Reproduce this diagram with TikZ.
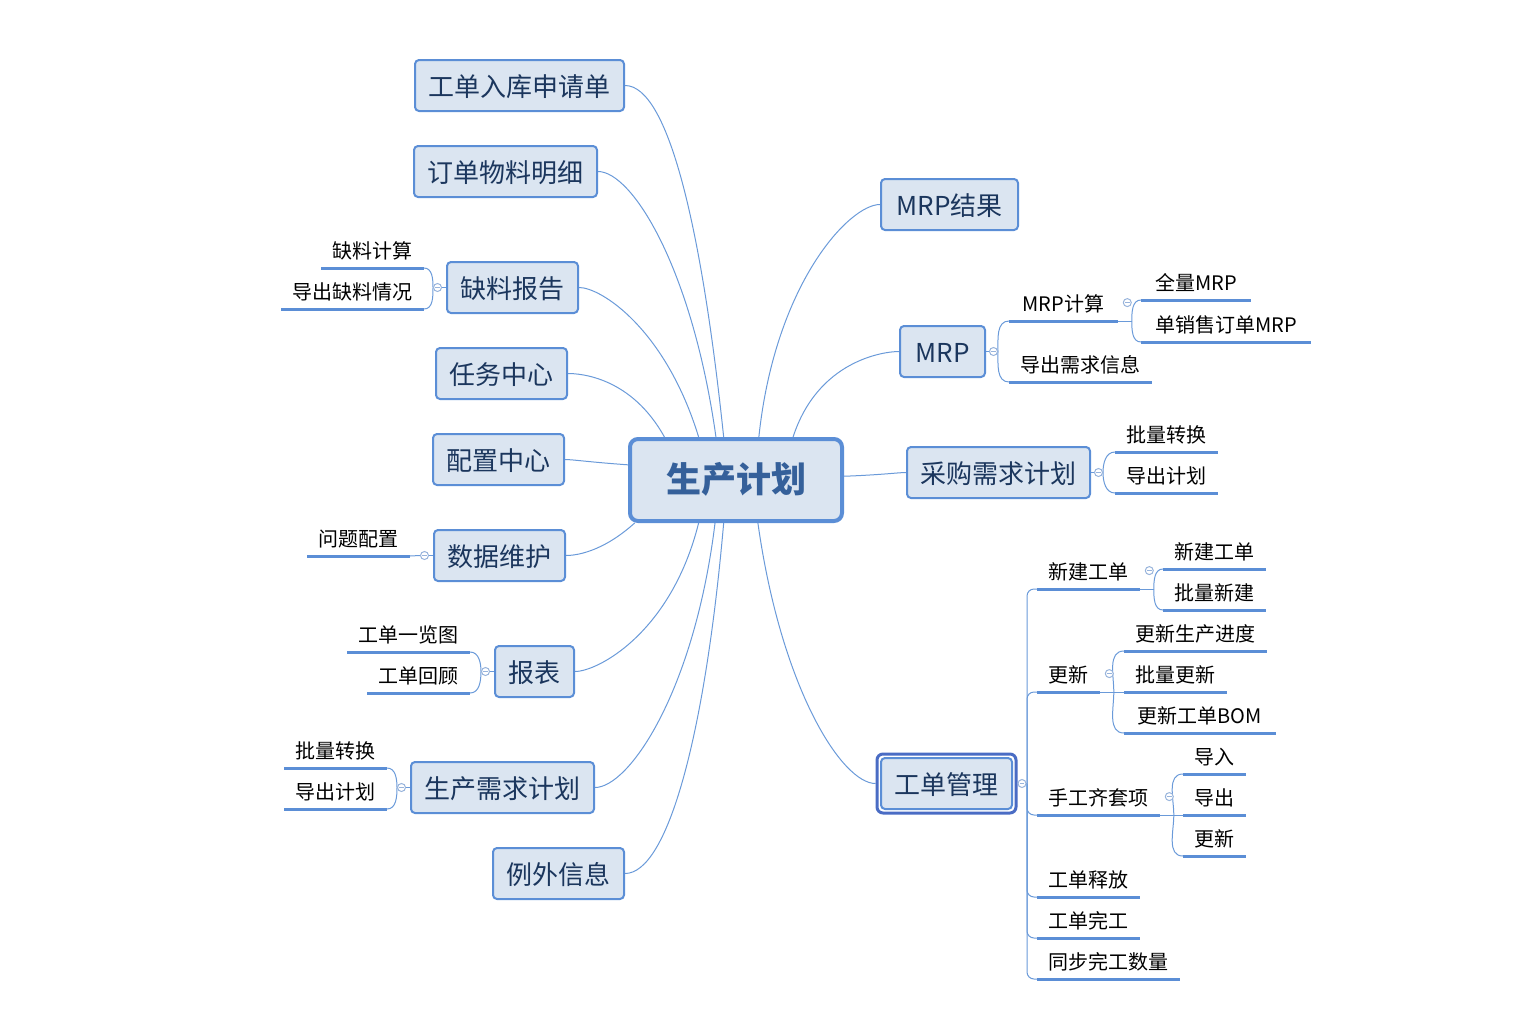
\documentclass[tikz,border=0pt]{standalone}
\usepackage{fontspec}
\setmainfont{Noto Sans CJK SC}
\usepackage{tikz}
\usetikzlibrary{positioning,fit,backgrounds}

\definecolor{topicfill}{HTML}{DBE5F1}
\definecolor{topicline}{HTML}{5B8ED6}
\definecolor{topictext}{HTML}{1B365D}
\definecolor{roottext}{HTML}{35609A}
\definecolor{linkblue}{HTML}{6A9AD9}
\definecolor{foldline}{HTML}{98B4DC}
\definecolor{selline}{HTML}{4A6CC4}

\tikzset{
  root/.style={draw=topicline, fill=topicfill, line width=2pt, rounded corners=4pt,
    minimum width=106pt, minimum height=41pt, text=roottext,
    text height=1.2em, text depth=0em, font=\fontsize{17.5}{20}\selectfont\bfseries},
  topic/.style={draw=topicline, fill=topicfill, line width=1pt, rounded corners=2pt,
    inner xsep=6.75pt, inner ysep=0pt, minimum height=25.5pt, text=topictext,
    text height=1.1em, text depth=0em, font=\fontsize{13}{15}\selectfont},
  leaf/.style={inner xsep=5.5pt, inner ysep=0pt, minimum height=18pt,
    text height=0.95em, text depth=0.05em, font=\fontsize{10}{12}\selectfont,
    append after command={(\tikzlastnode.south west) edge[uline] (\tikzlastnode.south east)}},
  uline/.style={draw=topicline, line width=1.5pt},
  link/.style={draw=linkblue, line width=0.5pt},
  branch/.style={link, out looseness=0.3, in looseness=1.5},
  fold/.style={circle, draw=foldline, fill=white, line width=0.5pt, minimum size=4pt, inner sep=0pt,
    path picture={\draw[foldline, line width=0.4pt] ([xshift=-1.1pt]path picture bounding box.center) -- ([xshift=1.1pt]path picture bounding box.center);}},
  selbox/.style={draw=selline, line width=1.5pt, rounded corners=3pt, inner sep=1.5pt},
}

\begin{document}
\begin{tikzpicture}[x=0.5pt,y=-0.5pt]
\useasboundingbox (0,0) rectangle (1522,1013);

\node[root] (plan) at (736,480) {生产计划};

% left side
\node[topic] (ruku) at (519.5,85.5) {工单入库申请单};
\node[topic] (mingxi) at (505.5,171.5) {订单物料明细};
\node[topic] (queliao) at (512.5,287.5) {缺料报告};
\node[topic] (renwu) at (501.5,373.5) {任务中心};
\node[topic] (peizhi) at (498.5,459.5) {配置中心};
\node[topic] (weihu) at (499.5,555.5) {数据维护};
\node[topic] (baobiao) at (534.5,671.5) {报表};
\node[topic] (xuqiu) at (502.5,787.5) {生产需求计划};
\node[topic] (liwai) at (558.5,873.5) {例外信息};

% right side
\node[topic, minimum width=68.5pt] (mrpres) at (949.5,204.5) {MRP结果};
\node[topic, minimum width=42.5pt] (mrp) at (942.5,351.5) {MRP};
\node[topic] (caigou) at (998.5,472.5) {采购需求计划};
\node[topic] (gongdan) at (946.5,783.5) {工单管理};
\node[selbox, fit=(gongdan)] (gdsel) {};

\node[fold, left=2pt of queliao] (fqueliao) {};
\node[fold, left=2pt of weihu] (fweihu) {};
\node[fold, left=2pt of baobiao] (fbaobiao) {};
\node[fold, left=2pt of xuqiu] (fxuqiu) {};
\node[fold, right=1.5pt of mrp] (fmrp) {};
\node[fold, right=1.5pt of caigou] (fcaigou) {};
\node[fold, right=0pt of gdsel] (fgongdan) {};

\node[leaf, anchor=south east] (qljs) at (424,268) {缺料计算};
\node[leaf, anchor=south east] (qldc) at (424,309) {导出缺料情况};
\node[leaf, anchor=south east] (wtpz) at (410,556) {问题配置};
\node[leaf, anchor=south east] (bbylt) at (470,652) {工单一览图};
\node[leaf, anchor=south east] (bbhg) at (470,693) {工单回顾};
\node[leaf, anchor=south east] (xqzh) at (387,768) {批量转换};
\node[leaf, anchor=south east] (xqdc) at (387,809) {导出计划};

\node[leaf, anchor=south west, minimum width=54pt] (mrpjs) at (1009,321) {MRP计算};
\node[leaf, anchor=south west] (mrpdc) at (1009,382) {导出需求信息};
\node[fold, right=2.5pt of mrpjs] (fmrpjs) {};
\node[leaf, anchor=south west, minimum width=54.5pt] (mrpql) at (1141,300) {全量MRP};
\node[leaf, anchor=south west, minimum width=84.5pt] (mrpxs) at (1141,342) {单销售订单MRP};

\node[leaf, anchor=south west] (cgzh) at (1115,452) {批量转换};
\node[leaf, anchor=south west] (cgdc) at (1115,493) {导出计划};

\node[leaf, anchor=south west] (gdxj) at (1037,589) {新建工单};
\node[fold, right=2.5pt of gdxj] (fgdxj) {};
\node[leaf, anchor=south west] (gdxja) at (1163,569) {新建工单};
\node[leaf, anchor=south west] (gdxjb) at (1163,610) {批量新建};
\node[leaf, anchor=south west] (gdgx) at (1037,692) {更新};
\node[fold, right=2.5pt of gdgx] (fgdgx) {};
\node[leaf, anchor=south west] (gdgxa) at (1124,651) {更新生产进度};
\node[leaf, anchor=south west] (gdgxb) at (1124,692) {批量更新};
\node[leaf, anchor=south west, minimum width=75.5pt] (gdgxc) at (1124,733) {更新工单BOM};
\node[leaf, anchor=south west] (gdqt) at (1037,815) {手工齐套项};
\node[fold, right=2.5pt of gdqt] (fgdqt) {};
\node[leaf, anchor=south west] (gdqta) at (1183,774) {导入};
\node[leaf, anchor=south west] (gdqtb) at (1183,815) {导出};
\node[leaf, anchor=south west] (gdqtc) at (1183,856) {更新};
\node[leaf, anchor=south west] (gdsf) at (1037,897) {工单释放};
\node[leaf, anchor=south west] (gdwg) at (1037,938) {工单完工};
\node[leaf, anchor=south west] (gdtb) at (1037,979) {同步完工数量};

\coordinate[right=7pt of mrpjs.south east] (kmrpjs);
\coordinate[right=7pt of gdxj.south east] (kgdxj);
\coordinate[right=7pt of gdgx.south east] (kgdgx);
\coordinate[right=7pt of gdqt.south east] (kgdqt);
\coordinate[right=2.5pt of fgongdan.center] (kgd);

\begin{scope}[on background layer]
\draw[branch] (ruku.east) to[out=0,in=96] (plan.106);
\draw[branch] (mingxi.east) to[out=0,in=98] (plan.115);
\draw[branch] (queliao.east) to[out=0,in=107] (plan.131);
\draw[branch] (renwu.east) to[out=0,in=119] (plan.149);
\draw[branch] (peizhi.east) to[out=0,in=176] (plan.172);
\draw[branch] (weihu.east) to[out=0,in=222] (plan.203);
\draw[branch] (baobiao.east) to[out=0,in=256] (plan.229);
\draw[branch] (xuqiu.east) to[out=0,in=263] (plan.244);
\draw[branch] (liwai.east) to[out=0,in=265] (plan.254);
\draw[branch] (mrpres.west) to[out=180,in=84] (plan.62);
\draw[branch] (mrp.west) to[out=180,in=72] (plan.37);
\draw[branch] (caigou.west) to[out=180,in=2] (plan.2);
\draw[branch] (gdsel.west) to[out=180,in=278] (plan.297);

\draw[link] (queliao.west) -- (fqueliao);
\draw[link] (fqueliao.west) to[out=90,in=0] (qljs.south east);
\draw[link] (fqueliao.west) to[out=-90,in=0] (qldc.south east);
\draw[link] (weihu.west) -- (fweihu);
\draw[link] (fweihu.west) -- (wtpz.south east);
\draw[link] (baobiao.west) -- (fbaobiao);
\draw[link] (fbaobiao.west) to[out=90,in=0] (bbylt.south east);
\draw[link] (fbaobiao.west) to[out=-90,in=0] (bbhg.south east);
\draw[link] (xuqiu.west) -- (fxuqiu);
\draw[link] (fxuqiu.west) to[out=90,in=0] (xqzh.south east);
\draw[link] (fxuqiu.west) to[out=-90,in=0] (xqdc.south east);

\draw[link] (mrp.east) -- (fmrp);
\draw[link] (fmrp.east) to[out=90,in=180] (mrpjs.south west);
\draw[link] (fmrp.east) to[out=-90,in=180] (mrpdc.south west);
\draw[link] (mrpjs.south east) -- (kmrpjs);
\draw[link] (kmrpjs) to[out=90,in=180] (mrpql.south west);
\draw[link] (kmrpjs) to[out=-90,in=180] (mrpxs.south west);

\draw[link] (caigou.east) -- (fcaigou);
\draw[link] (fcaigou.east) to[out=90,in=180] (cgzh.south west);
\draw[link] (fcaigou.east) to[out=-90,in=180] (cgdc.south west);

\draw[link] (gdsel.east) -- (kgd);
\foreach \g in {gdxj,gdgx,gdqt,gdsf,gdwg,gdtb}
  \draw[link, rounded corners=3.5pt] (kgd) |- (\g.south west);
\draw[link] (gdxj.south east) -- (kgdxj);
\draw[link] (kgdxj) to[out=90,in=180] (gdxja.south west);
\draw[link] (kgdxj) to[out=-90,in=180] (gdxjb.south west);
\draw[link] (gdgx.south east) -- (kgdgx);
\draw[link] (kgdgx) to[out=90,in=180] (gdgxa.south west);
\draw[link] (kgdgx) -- (gdgxb.south west);
\draw[link] (kgdgx) to[out=-90,in=180] (gdgxc.south west);
\draw[link] (gdqt.south east) -- (kgdqt);
\draw[link] (kgdqt) to[out=90,in=180] (gdqta.south west);
\draw[link] (kgdqt) -- (gdqtb.south west);
\draw[link] (kgdqt) to[out=-90,in=180] (gdqtc.south west);
\end{scope}
\end{tikzpicture}
\end{document}
